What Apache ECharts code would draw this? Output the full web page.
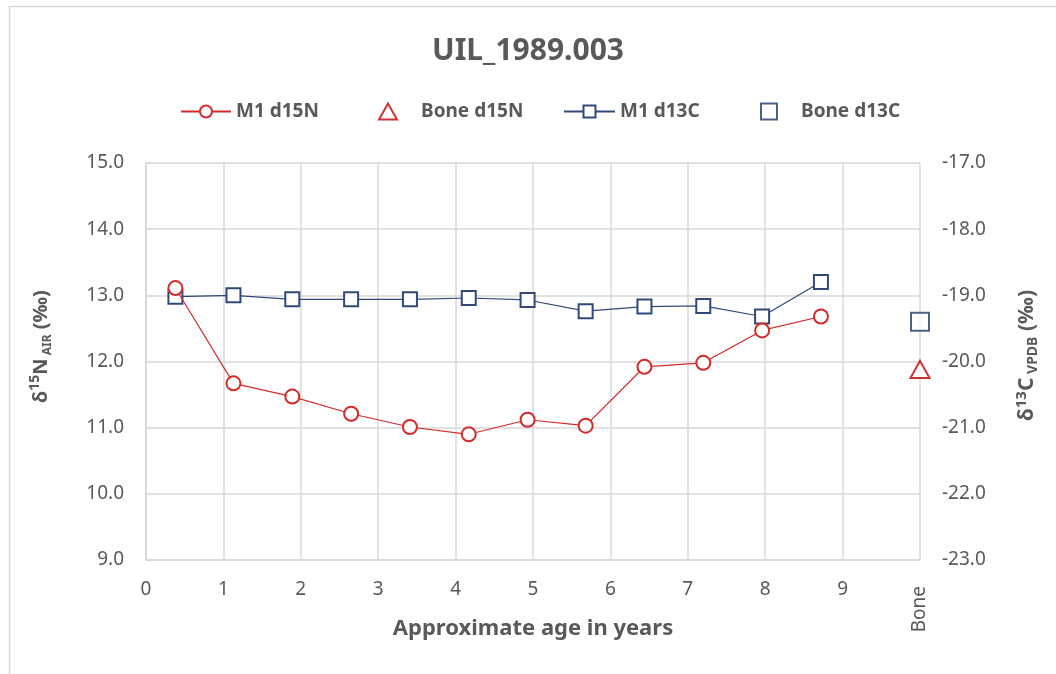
<!DOCTYPE html>
<html>
<head>
<meta charset="utf-8">
<title>UIL_1989.003</title>
<script src="https://cdn.jsdelivr.net/npm/echarts@6/dist/echarts.min.js"></script>
<style>
  html, body { margin: 0; padding: 0; background: #fff; }
  #chart { width: 1056px; height: 674px; }
</style>
</head>
<body>
<div id="chart"></div>
<script>
// approximate age (years) of each M1 increment
const ages = [0.38, 1.13, 1.89, 2.65, 3.41, 4.17, 4.93, 5.68, 6.44, 7.2, 7.96, 8.72]
// δ15N (‰, AIR) per increment
const m1d15N = [13.11, 11.67, 11.47, 11.21, 11.01, 10.9, 11.12, 11.03, 11.92, 11.98, 12.47, 12.68]
// δ13C (‰, VPDB) per increment
const m1d13C = [-19.02, -19.0, -19.06, -19.06, -19.06, -19.04, -19.07, -19.24, -19.17, -19.16, -19.32, -18.8]
// bone values, drawn at the "Bone" slot of the x axis
const boneX = 10
const boneD15N = 11.88
const boneD13C = -19.4
const xTicks = ['0', '1', '2', '3', '4', '5', '6', '7', '8', '9']

const textColor = '#595959'
const gridColor = '#d9d9d9'
const font = 'Noto Sans'
const red = '#d42a2a'
const darkRed = '#c00000'
const navy = '#2f4a7a'
const darkNavy = '#1f3864'

const chart = echarts.init(document.getElementById('chart'))

// rich styles for the y axis titles (superscript isotope mass, subscript standard)
const makeRich = (size, supSize, subSize) => ({
  b: {fontFamily: font, fontSize: size, fontWeight: 'bold', color: textColor, lineHeight: 26},
  sup: {fontFamily: font, fontSize: supSize, fontWeight: 'bold', color: textColor, verticalAlign: 'top', lineHeight: 14},
  sub: {fontFamily: font, fontSize: subSize, fontWeight: 'bold', color: textColor, verticalAlign: 'bottom', lineHeight: 12}
})

const legendText = {color: textColor, fontFamily: font, fontSize: 19, fontWeight: 'bold'}

const option = {
  animation: false,
  backgroundColor: '#fff',
  graphic: [{
    type: 'rect',
    left: 7, top: 4,
    shape: {width: 1100, height: 720},
    style: {fill: 'none', stroke: gridColor, lineWidth: 1.5},
    silent: true
  }],
  title: {
    text: 'UIL_1989.003',
    left: 'center',
    top: 31,
    textStyle: {color: textColor, fontFamily: font, fontSize: 30, fontWeight: 'bold'}
  },
  legend: [
    {data: ['M1 d15N'], left: 180, top: 102, padding: 0, itemWidth: 50, itemHeight: 15, textStyle: legendText},
    {data: ['Bone d15N'], left: 378, top: 102, padding: 0, itemWidth: 18, itemHeight: 16, textStyle: {...legendText, padding: [0, 0, 0, 19]}},
    {data: ['M1 d13C'], left: 563, top: 102, padding: 0, itemWidth: 51, itemHeight: 15, textStyle: legendText},
    {data: ['Bone d13C'], left: 760, top: 102, padding: 0, itemWidth: 16, itemHeight: 16, textStyle: {...legendText, padding: [0, 0, 0, 19]}}
  ],
  grid: {left: 146, right: 136, top: 163, bottom: 114},
  xAxis: [
    {
      type: 'value',
      min: 0, max: 10, interval: 1,
      name: 'Approximate age in years',
      nameLocation: 'middle',
      nameGap: 58,
      nameTextStyle: {color: textColor, fontFamily: font, fontSize: 22, fontWeight: 'bold'},
      axisLine: {show: true, lineStyle: {color: gridColor, width: 1.5}},
      axisTick: {show: false},
      splitLine: {show: true, lineStyle: {color: gridColor, width: 1.5}},
      axisLabel: {
        color: textColor, fontFamily: font, fontSize: 19, margin: 20,
        formatter: v => xTicks[v] !== undefined ? xTicks[v] : ''
      }
    },
    {
      type: 'value',
      position: 'bottom',
      min: 0, max: 10, interval: 1,
      axisLine: {show: false},
      axisTick: {show: false},
      splitLine: {show: false},
      axisLabel: {
        color: textColor, fontFamily: font, fontSize: 19, margin: 26, rotate: 90,
        showMaxLabel: true,
        formatter: v => v === boneX ? 'Bone' : ''
      }
    }
  ],
  yAxis: [
    {
      type: 'value',
      min: 9, max: 15, interval: 1,
      name: '{b|δ}{sup|15}{b|N}{sub| AIR}{b| (‰)}',
      nameLocation: 'middle',
      nameRotate: 90,
      nameGap: 92,
      nameTextStyle: {rich: makeRich(20, 14, 12), padding: [0, 0, 0, 30]},
      axisLine: {show: true, lineStyle: {color: gridColor, width: 1.5}},
      axisTick: {show: false},
      splitLine: {show: true, lineStyle: {color: gridColor, width: 1.5}},
      axisLabel: {color: textColor, fontFamily: font, fontSize: 19, margin: 22, formatter: v => v.toFixed(1)}
    },
    {
      type: 'value',
      min: -23, max: -17, interval: 1,
      name: '{b|δ}{sup|13}{b|C}{sub| VPDB}{b| (‰)}',
      nameLocation: 'middle',
      nameRotate: 90,
      nameGap: 94,
      nameTextStyle: {rich: makeRich(21, 15, 14), padding: [0, 0, 0, 12]},
      axisLine: {show: true, lineStyle: {color: gridColor, width: 1.5}},
      axisTick: {show: true, inside: false, length: 7, lineStyle: {color: gridColor, width: 1.5}},
      splitLine: {show: false},
      axisLabel: {color: textColor, fontFamily: font, fontSize: 19, margin: 22, formatter: v => v.toFixed(1)}
    }
  ],
  series: [
    {
      name: 'M1 d13C',
      type: 'line',
      yAxisIndex: 1,
      data: ages.map((a, i) => [a, m1d13C[i]]),
      symbol: 'emptyRect',
      symbolSize: 14,
      color: navy,
      lineStyle: {color: navy, width: 1.2},
      itemStyle: {color: navy, borderColor: navy, borderWidth: 1.3},
      z: 2
    },
    {
      name: 'M1 d15N',
      type: 'line',
      yAxisIndex: 0,
      data: ages.map((a, i) => [a, m1d15N[i]]),
      symbol: 'emptyCircle',
      symbolSize: 14,
      color: red,
      lineStyle: {color: red, width: 1.2},
      itemStyle: {color: red, borderColor: red, borderWidth: 1.3},
      z: 3
    },
    {
      name: 'Bone d15N',
      type: 'scatter',
      yAxisIndex: 0,
      clip: false,
      data: [[boneX, boneD15N]],
      symbol: 'emptyTriangle',
      symbolSize: [19, 17],
      color: darkRed,
      itemStyle: {color: darkRed, borderColor: darkRed, borderWidth: 2}
    },
    {
      name: 'Bone d13C',
      type: 'scatter',
      yAxisIndex: 1,
      clip: false,
      data: [[boneX, boneD13C]],
      symbol: 'emptyRect',
      symbolSize: 18,
      color: darkNavy,
      itemStyle: {color: darkNavy, borderColor: darkNavy, borderWidth: 2}
    }
  ]
}

option && chart.setOption(option)
</script>
</body>
</html>
